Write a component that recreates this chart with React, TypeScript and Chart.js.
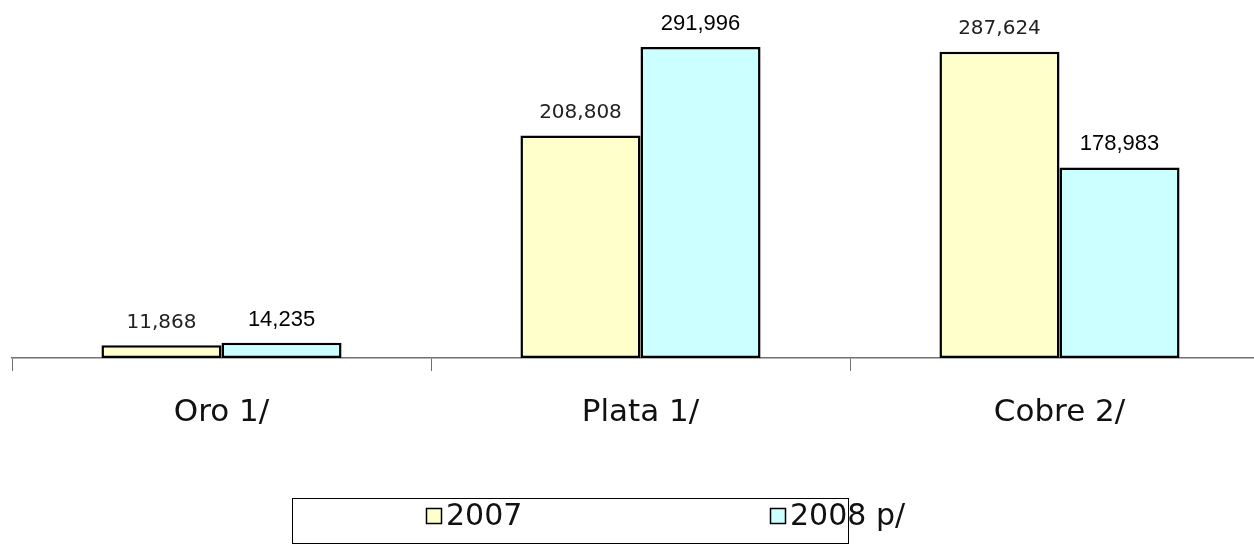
import React, { useEffect, useRef } from "react";
import { Chart, registerables } from "chart.js";

Chart.register(...registerables);

const categories = ["Oro 1/", "Plata 1/", "Cobre 2/"];
const seriesLabels = ["2007", "2008 p/"];
const values2007 = [11868, 208808, 287624];
const values2008 = [14235, 291996, 178983];
const seriesColors = ["#FFFFCC", "#CCFFFF"];

const valueLabels = {
  id: "valueLabels",
  afterDatasetsDraw(chart: any) {
    const ctx = chart.ctx;
    chart.data.datasets.forEach((ds: any, i: number) => {
      const meta = chart.getDatasetMeta(i);
      meta.data.forEach((bar: any, j: number) => {
        const v = ds.data[j] as number;
        ctx.save();
        ctx.font = i === 0 ? '20px "DejaVu Sans"' : '22px "Liberation Sans"';
        ctx.fillStyle = i === 0 ? "#222" : "#000";
        ctx.textAlign = "center";
        ctx.textBaseline = "middle";
        ctx.fillText(v.toLocaleString("en-US"), bar.x, bar.y - 23);
        ctx.restore();
      });
    });
  },
};

const boxedLegend = {
  id: "boxedLegend",
  afterDraw(chart: any) {
    const ctx = chart.ctx;
    ctx.save();
    ctx.strokeStyle = "#000";
    ctx.lineWidth = 1;
    ctx.strokeRect(292.5, 498.5, 556, 45);
    const swatchX = [426, 770];
    chart.data.datasets.forEach((ds: any, i: number) => {
      const x = swatchX[i];
      ctx.fillStyle = ds.backgroundColor;
      ctx.fillRect(x, 508, 15, 15);
      ctx.strokeStyle = "#000";
      ctx.lineWidth = 1.5;
      ctx.strokeRect(x + 0.5, 508.5, 15, 15);
      ctx.fillStyle = "#111";
      ctx.font = '30px "DejaVu Sans"';
      ctx.textAlign = "left";
      ctx.textBaseline = "middle";
      ctx.fillText(ds.label, x + 20, 517);
    });
    ctx.restore();
  },
};

export default function App() {
  const ref = useRef<HTMLCanvasElement | null>(null);

  useEffect(() => {
    if (!ref.current) return;
    const chart = new Chart(ref.current, {
      type: "bar",
      data: {
        labels: categories,
        datasets: [
          {
            label: seriesLabels[0],
            data: values2007,
            backgroundColor: seriesColors[0],
            borderColor: "#000",
            borderWidth: 2.5,
            borderSkipped: false,
            categoryPercentage: 0.573,
            barPercentage: 1.0,
          },
          {
            label: seriesLabels[1],
            data: values2008,
            backgroundColor: seriesColors[1],
            borderColor: "#000",
            borderWidth: 2.5,
            borderSkipped: false,
            categoryPercentage: 0.573,
            barPercentage: 1.0,
          },
        ],
      },
      options: {
        responsive: false,
        animation: false,
        devicePixelRatio: 1,
        layout: { padding: { left: 12, right: 21, top: 38.5, bottom: 87 } },
        plugins: {
          legend: { display: false },
          tooltip: { enabled: false },
        },
        scales: {
          x: {
            grid: {
              display: true,
              drawOnChartArea: false,
              drawTicks: true,
              tickLength: 13,
              color: "#707070",
              offset: true,
            },
            border: { display: true, color: "#707070", width: 1.5 },
            ticks: {
              font: { family: "DejaVu Sans", size: 31 },
              color: "#111",
              padding: 23,
              maxRotation: 0,
              autoSkip: false,
            },
            afterFit: (s: any) => {
              s.height = 100;
            },
          },
          y: { display: false, min: 0, max: 300000 },
        },
      },
      plugins: [valueLabels, boxedLegend],
    });
    return () => chart.destroy();
  }, []);

  return (
    <div
      style={{
        position: "absolute",
        left: 0,
        top: 0,
        width: 1254,
        height: 545,
        overflow: "hidden",
        background: "#fff",
      }}
    >
      <canvas ref={ref} width={1290} height={545} style={{ display: "block", width: 1290, height: 545 }} />
    </div>
  );
}
